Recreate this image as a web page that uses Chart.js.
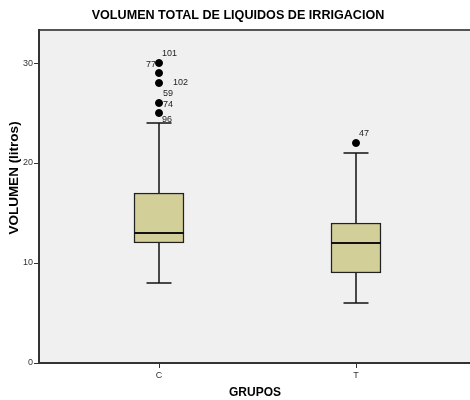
<!DOCTYPE html>
<html>
<head>
<meta charset="utf-8">
<script src="https://cdn.jsdelivr.net/npm/chart.js@4.4.0/dist/chart.umd.min.js"></script>
<style>
  body { margin: 0; background: #fff; overflow: hidden; }
  #wrap { width: 470px; height: 400px; overflow: hidden; }
</style>
</head>
<body>
<div id="wrap"><canvas id="grafica" width="476" height="400"></canvas></div>
<script>
// datos
const grupos = ["C", "T"];
const q1 = [12, 9];
const mediana = [13, 12];
const q3 = [17, 14];
const bigoteInf = [8, 6];
const bigoteSup = [24, 21];
const atipicosC = [30, 29, 28, 26, 25];
const atipicosT = [22];
const casosGrupo = ["C", "C", "C", "C", "C", "C", "T"];
const casosValor = [30, 29, 28, 26, 25, 25, 22];
const casosId = ["101", "77", "102", "59", "74", "96", "47"];
const ticksY = [0, 10, 20, 30];

// desplazamiento de las etiquetas de casos (px)
const empuje = [[3, -10, "left"], [-3, -9, "right"], [14, -1, "left"], [4, -9, "left"], [4, -8.5, "left"], [3, 7, "left"], [3, -9, "left"]];

Chart.defaults.font.family = '"Liberation Sans", Arial, sans-serif';

const pos = g => grupos.indexOf(g) + 1;

const fondo = {
  id: "fondo",
  beforeDraw(chart) {
    const a = chart.chartArea, ctx = chart.ctx;
    ctx.save();
    ctx.fillStyle = "#f0f0f0";
    ctx.fillRect(a.left, a.top, chart.width - a.left, a.bottom - a.top);
    ctx.strokeStyle = "#555";
    ctx.lineWidth = 2;
    ctx.beginPath();
    ctx.moveTo(a.left, a.top);
    ctx.lineTo(chart.width, a.top);
    ctx.stroke();
    ctx.restore();
  }
};

const cajas = {
  id: "cajas",
  afterDatasetsDraw(chart) {
    const ctx = chart.ctx, x = chart.scales.x, y = chart.scales.y;
    ctx.save();
    ctx.strokeStyle = "#111";
    ctx.lineWidth = 1.5;
    grupos.forEach((g, i) => {
      const cx = x.getPixelForValue(i + 1);
      ctx.beginPath();
      // bigotes
      ctx.moveTo(cx, y.getPixelForValue(q3[i]));
      ctx.lineTo(cx, y.getPixelForValue(bigoteSup[i]));
      ctx.moveTo(cx, y.getPixelForValue(q1[i]));
      ctx.lineTo(cx, y.getPixelForValue(bigoteInf[i]));
      ctx.moveTo(cx - 12.5, y.getPixelForValue(bigoteSup[i]));
      ctx.lineTo(cx + 12.5, y.getPixelForValue(bigoteSup[i]));
      ctx.moveTo(cx - 12.5, y.getPixelForValue(bigoteInf[i]));
      ctx.lineTo(cx + 12.5, y.getPixelForValue(bigoteInf[i]));
      ctx.stroke();
      ctx.lineWidth = 2;
      ctx.beginPath();
      ctx.moveTo(cx - 25, y.getPixelForValue(mediana[i]));
      ctx.lineTo(cx + 25, y.getPixelForValue(mediana[i]));
      ctx.stroke();
      ctx.lineWidth = 1.5;
    });
    // etiquetas de casos
    ctx.fillStyle = "#222";
    ctx.font = '9px "Liberation Sans", Arial, sans-serif';
    ctx.textBaseline = "middle";
    casosId.forEach((id, i) => {
      const px = x.getPixelForValue(pos(casosGrupo[i])) + empuje[i][0];
      const py = y.getPixelForValue(casosValor[i]) + empuje[i][1];
      ctx.textAlign = empuje[i][2];
      ctx.fillText(id, px, py);
    });
    // titulo eje y
    ctx.fillStyle = "#000";
    ctx.font = 'bold 13.5px "Liberation Sans", Arial, sans-serif';
    ctx.textAlign = "center";
    ctx.translate(14.5, 178);
    ctx.rotate(-Math.PI / 2);
    ctx.fillText("VOLUMEN (litros)", 0, 0);
    ctx.restore();
  }
};

new Chart(document.getElementById("grafica"), {
  type: "bar",
  data: {
    datasets: [
      {
        label: "caja",
        data: grupos.map((g, i) => ({ x: i + 1, y: [q1[i], q3[i]] })),
        backgroundColor: "#d3cf98",
        borderColor: "#222",
        borderWidth: 1.5,
        borderSkipped: false,
        barThickness: 50
      },
      {
        type: "scatter",
        label: "atipicos",
        data: atipicosC.map(v => ({ x: pos("C"), y: v })).concat(atipicosT.map(v => ({ x: pos("T"), y: v }))),
        backgroundColor: "#000",
        borderColor: "#000",
        pointRadius: 3.5
      }
    ]
  },
  options: {
    responsive: false,
    animation: false,
    layout: { padding: 0 },
    plugins: {
      legend: { display: false },
      tooltip: { enabled: false },
      title: {
        display: true,
        text: "VOLUMEN TOTAL DE LIQUIDOS DE IRRIGACION",
        color: "#000",
        font: { size: 12.6, weight: "bold" },
        padding: { top: 7.6, bottom: 7.3 }
      }
    },
    scales: {
      x: {
        type: "linear",
        offset: false,
        min: 1 - 120 / 197,
        max: 1 - 120 / 197 + 432 / 197,
        afterBuildTicks: s => { s.ticks = grupos.map((g, i) => ({ value: i + 1 })); },
        afterFit: s => { s.height = 37; },
        ticks: {
          callback: v => grupos[v - 1],
          color: "#333",
          font: { size: 9 },
          padding: 2,
          maxRotation: 0
        },
        grid: { offset: false, drawOnChartArea: false, drawTicks: true, tickLength: 5, color: "#333", lineWidth: 1 },
        border: { color: "#333", width: 2 },
        title: {
          display: true,
          text: "GRUPOS",
          color: "#000",
          font: { size: 12, weight: "bold" },
          padding: { top: 4, bottom: 0.4 }
        }
      },
      y: {
        min: 0,
        max: 33.3,
        afterBuildTicks: s => { s.ticks = ticksY.map(v => ({ value: v })); },
        afterFit: s => { s.width = 39; },
        ticks: { color: "#333", font: { size: 9 }, padding: 1 },
        grid: { drawOnChartArea: false, drawTicks: true, tickLength: 5, color: "#333", lineWidth: 1 },
        border: { color: "#333", width: 2 }
      }
    }
  },
  plugins: [fondo, cajas]
});
</script>
</body>
</html>
